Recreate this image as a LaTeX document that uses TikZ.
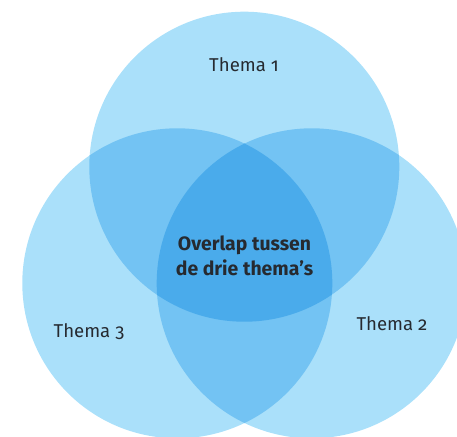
\documentclass[tikz,border=0pt]{standalone}
\usepackage{fontspec}
\setmainfont{Fira Sans}[Numbers=OldStyle]
\definecolor{lightc}{HTML}{AAE0FA}
\definecolor{midc}{HTML}{73C3F3}
\definecolor{darkc}{HTML}{4AABEB}
\definecolor{textc}{HTML}{262A30}
\begin{document}
\begin{tikzpicture}[x=1pt,y=-1pt,
  label/.style={anchor=base,text=textc,font=\fontsize{18.6}{22}\selectfont,inner sep=0pt},
  centerlabel/.style={anchor=base,text=textc,font=\bfseries\fontsize{19.4}{23}\selectfont,inner sep=0pt}]
\useasboundingbox (0,0) rectangle (457,436);
\clip (0,0) rectangle (457,436);
\coordinate (A) at (244.3,166.7);
\coordinate (B) at (311.7,283.3);
\coordinate (C) at (177.3,283.3);
\def\R{155pt}
\fill[lightc] (A) circle[radius=\R];
\fill[lightc] (B) circle[radius=\R];
\fill[lightc] (C) circle[radius=\R];
\begin{scope}
  \clip (A) circle[radius=\R];
  \fill[midc] (B) circle[radius=\R];
  \fill[midc] (C) circle[radius=\R];
\end{scope}
\begin{scope}
  \clip (B) circle[radius=\R];
  \fill[midc] (C) circle[radius=\R];
\end{scope}
\begin{scope}
  \clip (A) circle[radius=\R];
  \clip (B) circle[radius=\R];
  \fill[darkc] (C) circle[radius=\R];
\end{scope}
\node[label] (t1) at (244,71) {Thema 1};
\node[label] (t2) at (392,330) {Thema 2};
\node[label] (t3) at (89,337) {Thema 3};
\node[centerlabel] (ov1) at (244.5,250) {Overlap tussen};
\node[centerlabel] (ov2) at (244.5,275) {de drie thema’s};
\end{tikzpicture}
\end{document}
